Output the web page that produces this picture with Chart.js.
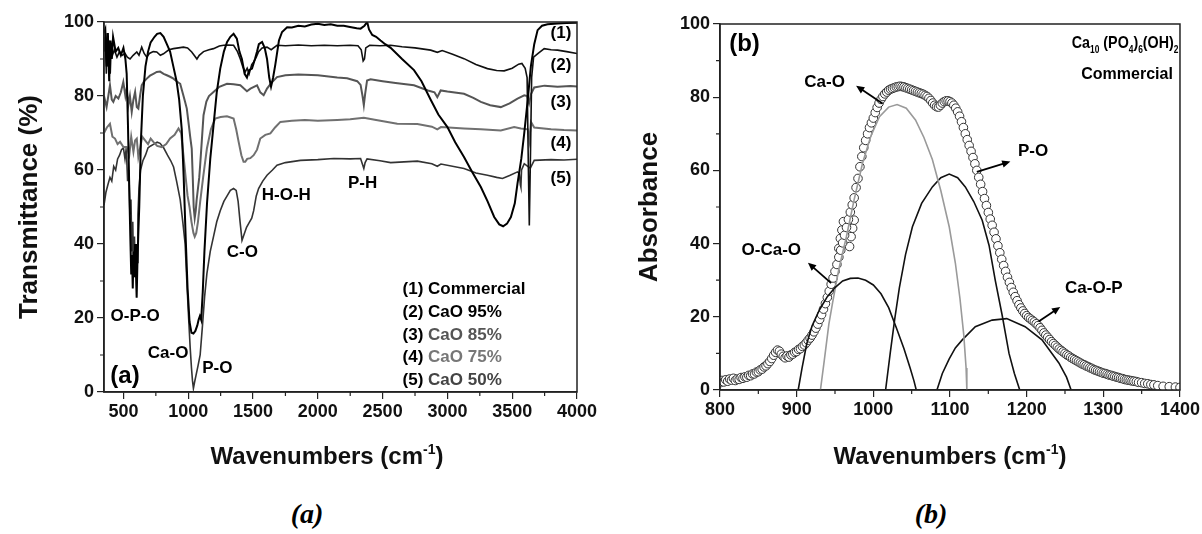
<!DOCTYPE html>
<html>
<head>
<meta charset="utf-8">
<title>FTIR spectra</title>
<script src="https://cdn.jsdelivr.net/npm/chart.js@4.4.1/dist/chart.umd.min.js"></script>
<style>
  html, body { margin: 0; padding: 0; background: #fff; }
  body { width: 1202px; height: 534px; position: relative; overflow: hidden; font-family: "Liberation Sans", Arial, sans-serif; }
  canvas { position: absolute; top: 0; }
  #chartA { left: 0; }
  #chartB { left: 601px; }
  .xtitle { position: absolute; top: 441px; line-height: 30px; font-weight: bold; font-size: 24px; white-space: nowrap; transform: translateX(-50%); color: #111; }
  .xtitle sup { font-size: 14px; vertical-align: 10px; line-height: 0; }
  .caption { position: absolute; top: 496px; line-height: 36px; font-family: "Liberation Serif", "Times New Roman", serif; font-style: italic; font-weight: bold; font-size: 28px; transform: translateX(-50%); }
</style>
</head>
<body>
<canvas id="chartA" width="601" height="480"></canvas>
<canvas id="chartB" width="601" height="480"></canvas>
<div class="xtitle" style="left:327px">Wavenumbers (cm<sup>-1</sup>)</div>
<div class="xtitle" style="left:950px">Wavenumbers (cm<sup>-1</sup>)</div>
<div class="caption" style="left:307px">(a)</div>
<div class="caption" style="left:931px">(b)</div>
<script>
// ---- panel (a): FTIR transmittance, [wavenumber, %T] ----
const commercial = [[350,97],[360,98],[370,88],[380,97],[390,84],[400,95],[410,90],[420,96],[440,92],[460,93],[480,91],[500,93],
  [515,90],[525,86],[535,72],[545,55],[553,42],[560,32],[566,37],[572,28],[578,38],[584,31],[590,40],[596,33],[602,25.5],[608,35],[614,42],[622,50],
  [635,68],[650,80],[670,88],[690,92],[710,94.5],[740,96],[760,96.8],[785,97],[810,96],[835,94],[860,92],[885,88],[910,84],[930,79],[950,71],[965,58],[980,42],[995,28],
  [1010,19],[1025,16],[1040,15.8],[1055,16.5],[1070,18],[1080,19.5],[1090,20.5],[1100,19.5],[1112,27],[1125,38],[1145,51],[1170,63],[1195,72],[1220,81],[1247,87.4],
  [1275,92],[1300,94.6],[1325,96],[1350,96.8],[1375,95.5],[1395,92],[1414,90],[1435,86],[1453,85],[1470,87],[1492,87.4],[1515,90],[1531,92],[1545,94],[1570,94.6],
  [1590,93],[1608,90],[1625,85],[1639,82.5],[1655,85],[1672,88.5],[1700,95],[1724,97.3],[1763,98.6],[1800,98.5],[1850,99],[1900,98.8],[1950,99.3],[2000,99.5],
  [2050,99.2],[2100,99.4],[2150,99],[2200,99],[2258,98.6],[2300,98.3],[2330,98.2],[2360,99],[2381,100],[2395,98],[2420,96.5],[2450,96],[2484,95],[2520,94],
  [2562,93],[2650,90],[2742,87],[2800,84],[2871,79],[2930,75],[3000,71.6],[3060,67.5],[3128,63.5],[3190,59.5],[3258,55.4],[3310,51.5],[3361,47.3],[3400,45.3],
  [3430,44.8],[3460,45.5],[3490,47.3],[3520,51],[3541,56.4],[3570,63],[3593,70],[3620,79],[3644,88],[3670,94],[3696,97.8],[3730,99],[3773,99.4],[3850,99.6],
  [3920,99.7],[4000,99.8]];

const cao95 = [[350,92],[360,96],[368,86],[375,97],[383,88],[390,95],[398,86],[405,93],[415,91],[430,92.5],[450,90.5],[470,92],[490,91],[512,91.5],[530,90.5],
  [551,90],[575,91],[603,91.9],[620,91],[641,93.2],[660,91.5],[680,90.5],[700,91.5],[730,92],[757,91.9],[785,91],[809,91.4],[850,92.5],[886,92.8],[925,93],
  [963,93.2],[995,93],[1027,91.9],[1050,90.8],[1067,90],[1085,91],[1118,92],[1160,92.5],[1195,92.8],[1240,93.5],[1273,93.7],[1310,93.8],[1350,93.7],[1380,92],
  [1402,90],[1420,88],[1440,86.5],[1455,87.5],[1470,86],[1490,88.5],[1505,89.2],[1525,90.5],[1543,92],[1570,93],[1608,93.2],[1640,92.5],[1685,93.7],[1750,93.6],
  [1850,93.8],[1950,93.6],[2050,93.7],[2150,93.6],[2250,93.7],[2310,93.6],[2335,92.5],[2350,89.5],[2360,90],[2370,93],[2400,93.7],[2480,93.6],[2562,93.7],
  [2650,93.3],[2750,93],[2871,92.4],[2922,91.8],[2960,92.3],[3040,91.3],[3128,90.1],[3220,88.5],[3309,87.4],[3380,86.9],[3438,86.8],[3500,87.5],[3550,88.6],
  [3575,88.8],[3600,87.5],[3615,85],[3625,60],[3632,45],[3640,62],[3650,85],[3665,90.5],[3700,91.5],[3747,92.8],[3800,92.5],[3850,92.4],[3920,92],[4000,91.5]];

const cao85 = [[350,80],[370,77],[396,82.9],[410,79],[422,78.4],[440,80],[461,79.3],[480,81],[499,83.8],[515,80],[525,82],[538,77.5],[550,80],[564,75.7],
  [577,79],[590,81.1],[603,77],[615,76.6],[628,80],[641,82.9],[660,84],[680,84.7],[705,85.5],[731,86],[757,86.5],[783,86.6],[810,86],[835,85.6],[860,85.2],
  [886,84.7],[910,84],[938,83.3],[960,80.5],[975,78.5],[989,76.6],[1005,72],[1015,69],[1027,65.8],[1035,58],[1042,50],[1050,47],[1058,49],[1065,52],[1075,55],
  [1085,58],[1092,61.3],[1105,68],[1118,74.8],[1140,78.5],[1160,80],[1195,81.1],[1240,82.5],[1299,83.3],[1350,83.2],[1402,82.9],[1430,82],[1453,81.3],[1480,82],
  [1531,82.9],[1556,81],[1582,80.2],[1608,82],[1640,83.5],[1685,85.1],[1750,85.6],[1850,85.8],[2000,85.6],[2150,85],[2226,84.8],[2304,84],[2330,83],[2345,80],
  [2355,77.5],[2365,80.5],[2380,84.2],[2407,84.5],[2500,84],[2600,83.5],[2742,82.9],[2850,81.5],[2900,81],[2922,79.7],[2948,81.5],[3000,81.2],[3128,80.6],
  [3200,79.5],[3258,78.4],[3330,77.5],[3412,77],[3480,78],[3541,79.3],[3593,80.2],[3615,80],[3630,78],[3645,80.5],[3670,82.3],[3750,82.8],[3850,82.5],
  [3950,82.7],[4000,82.6]];

const cao75 = [[350,70],[372,71.5],[396,72.5],[415,69],[435,68.5],[455,67],[474,67.6],[500,66.2],[525,66.2],[545,64],[560,69],[577,64.9],[590,68],[603,68.5],
  [615,63.5],[628,65.8],[645,69],[667,68],[690,67],[710,68.5],[731,67.6],[760,66.5],[796,66.2],[830,67],[860,68.5],[895,69.5],[925,71.2],[945,70],[963,64],
  [980,58],[995,53],[1010,50],[1025,46],[1040,43],[1050,42],[1062,43],[1075,46],[1092,51.4],[1115,58],[1144,65.8],[1175,71],[1208,73.9],[1250,74.3],[1299,74.5],
  [1350,73.9],[1370,71],[1389,67.6],[1410,64],[1427,62.2],[1440,62.2],[1455,63],[1479,63.2],[1505,64],[1531,65.5],[1556,68.5],[1595,69.5],[1634,69.9],[1670,71.5],
  [1711,73],[1800,73.3],[1900,73.5],[2000,73.3],[2150,73.5],[2250,73.7],[2355,74.1],[2450,73.5],[2613,72.5],[2768,72.4],[2880,71.7],[2922,71],[2950,71.6],
  [3128,71.2],[3258,71],[3412,70.7],[3515,71.6],[3567,71.2],[3620,71],[3632,68],[3645,73],[3670,71.5],[3800,71],[3900,70.8],[4000,70.7]];

const cao50 = [[350,50.5],[365,54],[380,56],[396,58],[410,57],[425,61],[440,60],[455,63],[470,64],[485,65.5],[500,66],[512,63],[522,66],[532,57],[542,60],
  [550,48],[558,52],[565,38],[572,46],[578,33],[585,42],[592,31],[598,40],[605,35],[612,48],[620,55],[632,60],[650,62.5],[670,64],[690,66],[710,66.5],[735,67],
  [760,67.5],[783,67.2],[810,66],[840,64],[865,62.5],[887,60.8],[910,57],[938,52],[958,46],[976,40],[989,30],[1003,20],[1015,12],[1025,6.5],[1033,3],[1040,1],
  [1048,2.5],[1060,4.5],[1075,7],[1092,10],[1110,18],[1127,26],[1144,32],[1170,38],[1195,42],[1220,46],[1247,49],[1275,51.5],[1300,53],[1325,54.5],[1350,55],
  [1370,54.5],[1385,51.5],[1400,46],[1415,41],[1430,42.5],[1450,44.5],[1466,45.5],[1490,47],[1505,49],[1525,53],[1543,55],[1575,57],[1608,58.6],[1650,60],
  [1685,61.3],[1750,62],[1866,62.6],[2000,62.8],[2123,63.1],[2250,63],[2330,63.1],[2345,61.5],[2355,60.4],[2365,62],[2380,63],[2480,62.5],[2562,62],[2768,62.4],
  [2880,61.7],[2922,61],[2950,61.6],[3128,60.4],[3220,59.2],[3309,58.6],[3380,58],[3425,57.7],[3480,58.5],[3541,59.5],[3555,59],[3563,56],[3567,55.4],[3572,60],
  [3593,61.7],[3620,61],[3640,60.5],[3670,62.6],[3800,62.8],[3900,62.7],[4000,62.9]];

// ---- panel (b): deconvolution, [wavenumber, absorbance] ----
const measured = [[800,2.0],[802.5,2.6],[805,2.2],[807.5,2.8],[810,2.4],[812.5,3.0],[815,2.7],[817.5,3.2],[820,2.6],[822.5,3.0],[825,2.9],[827.5,3.4],
  [830,3.2],[832.5,3.6],[835,3.5],[837.5,4.0],[840,3.9],[842.5,4.4],[845,4.4],[847.5,4.9],[850,5.0],[852.5,5.5],[855,5.7],[857.5,6.3],[860,6.6],[862.5,7.2],
  [865,7.8],[867.5,8.6],[870,9.5],[872.5,10.3],[875,10.9],[877.5,10.6],[880,9.8],[882.5,9.2],[885,8.8],[887.5,9.3],[890,9.0],[892.5,9.6],[895,9.8],[897.5,10.3],
  [900,10.5],[902.5,11.1],[905,11.3],[907.5,11.9],[910,12.3],[912.5,12.9],[915,13.6],[917.5,14.2],[920,15.0],[922.5,15.9],[925,16.9],[927.5,18.0],[930,19.3],
  [932.5,20.6],[935,22.1],[937.5,23.6],[940,25.3],[942.5,27],[945,28.9],[947.5,30.6],[950,32.4],[952.5,34.3],[955,36.3],[957.5,38.2],[960,40.2],[962.5,42.3],
  [965,44.4],[967.5,46.6],[970,48.6],[972.5,50.6],[975,52.5],[977.5,55.3],[980,57.8],[982.5,61],[985,63.8],[987.5,66.2],[990,68.2],[992.5,70],[995,71.7],
  [997.5,73],[1000,74.3],[1002.5,75.8],[1005,77.2],[1007.5,78.4],[1010,79.4],[1012.5,80.2],[1015,80.9],[1017.5,81.4],[1020,81.9],[1022.5,82.2],[1025,82.4],
  [1027.5,82.6],[1030,82.8],[1032.5,82.9],[1035,83],[1037.5,82.9],[1040,82.8],[1042.5,82.6],[1045,82.4],[1047.5,82.2],[1050,82],[1052.5,81.8],[1055,81.6],
  [1057.5,81.4],[1060,81.2],[1062.5,81],[1065,80.8],[1067.5,80.5],[1070,80.2],[1072.5,79.7],[1075,79.1],[1077.5,78.4],[1080,77.8],[1082.5,77.4],[1085,77.3],
  [1087.5,77.8],[1090,78.4],[1092.5,78.8],[1095,79],[1097.5,79],[1100,78.8],[1102.5,78.4],[1105,77.8],[1107.5,77],[1110,76],[1112.5,74.8],[1115,73.3],
  [1117.5,71.7],[1120,70],[1122.5,68.4],[1125,66.8],[1127.5,65.2],[1130,63.5],[1132.5,61.8],[1135,60],[1137.5,58.1],[1140,56.2],[1142.5,54.2],[1145,52.3],
  [1147.5,50.4],[1150,48.5],[1152.5,46.7],[1155,45],[1157.5,43.1],[1160,41.3],[1162.5,39.4],[1165,37.5],[1167.5,35.7],[1170,34],[1172.5,32.4],[1175,30.8],
  [1177.5,29.4],[1180,28],[1182.5,26.7],[1185,25.5],[1187.5,24.4],[1190,23.3],[1192.5,22.4],[1195,21.6],[1197.5,20.9],[1200,20.3],[1202.5,19.8],[1205,19.4],
  [1207.5,19.0],[1210,18.6],[1212.5,18.1],[1215,17.6],[1217.5,17],[1220,16.3],[1222.5,15.6],[1225,15],[1227.5,14.4],[1230,13.8],[1232.5,13.2],[1235,12.7],
  [1237.5,12.2],[1240,11.7],[1242.5,11.2],[1245,10.8],[1247.5,10.4],[1250,10],[1252.5,9.6],[1255,9.3],[1257.5,8.9],[1260,8.6],[1262.5,8.3],[1265,8],
  [1267.5,7.7],[1270,7.4],[1272.5,7.1],[1275,6.9],[1277.5,6.6],[1280,6.4],[1282.5,6.1],[1285,5.9],[1287.5,5.6],[1290,5.4],[1292.5,5.2],[1295,5],[1297.5,4.8],
  [1300,4.6],[1302.5,4.5],[1305,4.3],[1307.5,4.1],[1310,4],[1312.5,3.8],[1315,3.7],[1317.5,3.5],[1320,3.4],[1322.5,3.2],[1325,3.1],[1327.5,2.9],[1330,2.8],
  [1332.5,2.7],[1335,2.6],[1337.5,2.5],[1340,2.4],[1343,2.3],[1346,2.1],[1350,2],[1354,1.8],[1358,1.7],[1362,1.5],[1366,1.4],[1371,1.2],[1378,1.0],
  [1386,0.9],[1394,0.8],[1400,0.7]];
// scattered readings near 960 cm-1
const measuredScatter = [[955,38.7],[957,41.4],[959,43.7],[961,46],[969,39.2],[971,41.9],[973,44.2],[975,46.4]];

const bandOCaO = [[902,0],[907,6],[913,12.5],[920,17.5],[930,22],[940,25.5],[950,28],[960,29.8],[970,30.5],[980,30.6],[990,30],[1000,28.7],[1010,26.3],
  [1020,22.5],[1030,17],[1040,11.3],[1048,6],[1053,2.5],[1056,0]];
const bandCaO = [[931,0],[936,8],[942,18],[947,24],[955,33],[965,42],[975,52],[986,62],[997,69.5],[1008,74.7],[1020,77.3],[1031,78],[1043,77],[1055,73.8],
  [1066,69],[1077,63],[1088,54.5],[1099,44.6],[1107,34.7],[1113,25],[1118,15],[1121,6],[1122,0]];
const bandPO = [[1016,0],[1022,10],[1028,19.5],[1034,28],[1042,37],[1051,44.6],[1063,51],[1077,55.5],[1088,58],[1099,59],[1110,58],[1120,55.5],[1131,51.5],
  [1142,46.4],[1151,39.5],[1159,30],[1168,20.5],[1177,10],[1184,4.5],[1191,0]];
const bandCaOP = [[1083,0],[1090,4.5],[1099,8.5],[1107,11.5],[1116,13.7],[1133,17.3],[1155,19.1],[1174,19.5],[1198,17.3],[1220,13.7],[1242,7.4],[1252,3.5],[1258,0]];

// ---- ticks ----
const xTicksA = [500, 1000, 1500, 2000, 2500, 3000, 3500, 4000];
const xMinorA = [750, 1250, 1750, 2250, 2750, 3250, 3750];
const yTicksA = [0, 20, 40, 60, 80, 100];
const yMinorA = [10, 30, 50, 70, 90];
const xTicksB = [800, 900, 1000, 1100, 1200, 1300, 1400];
const xMinorB = [850, 950, 1050, 1150, 1250, 1350];
const yTicksB = [0, 20, 40, 60, 80, 100];
const yMinorB = [10, 30, 50, 70, 90];

const family = '"Liberation Sans", Arial, sans-serif';

function toPoints(pairs) {
  return pairs.map(p => ({ x: p[0], y: p[1] }));
}

function lineSet(label, pairs, color, width) {
  return { label, data: toPoints(pairs), borderColor: color, borderWidth: width, pointRadius: 0, fill: false, tension: 0, order: 1 };
}

function scaleX(min, max, ticks, height) {
  return {
    type: 'linear', min, max,
    afterBuildTicks: s => { s.ticks = ticks.map(v => ({ value: v })); },
    afterFit: s => { s.height = height; },
    grid: { drawOnChartArea: false, drawTicks: true, tickLength: 7, color: '#222', lineWidth: 1.2 },
    border: { display: true, color: '#222', width: 1.5 },
    ticks: { color: '#111', font: { family, size: 18, weight: 'bold' }, padding: 2, maxRotation: 0, autoSkip: false, callback: v => String(v) }
  };
}

function scaleY(min, max, ticks, width, text, pad) {
  return {
    type: 'linear', min, max,
    afterBuildTicks: s => { s.ticks = ticks.map(v => ({ value: v })); },
    afterFit: s => { s.width = width; },
    grid: { drawOnChartArea: false, drawTicks: true, tickLength: 7, color: '#222', lineWidth: 1.2 },
    border: { display: true, color: '#222', width: 1.5 },
    ticks: { color: '#111', font: { family, size: 18, weight: 'bold' }, padding: 3, autoSkip: false, callback: v => String(v) },
    title: { display: true, text, color: '#111', font: { family, size: 26, weight: 'bold' }, padding: { top: pad, bottom: 0 } }
  };
}

// text made of plain and subscript parts, anchored at a data point
function drawRich(ctx, xs, ys, t) {
  const size = t.size || 17;
  const squeeze = t.squeeze || 1;
  const big = `bold ${size}px ${family}`;
  const small = `bold ${Math.round(size * 0.6)}px ${family}`;
  const widths = t.parts.map(p => { ctx.font = p.sub ? small : big; return ctx.measureText(p.s).width * squeeze; });
  const total = widths.reduce((a, b) => a + b, 0);
  let px = xs.getPixelForValue(t.at[0]);
  const py = ys.getPixelForValue(t.at[1]);
  if (t.align === 'center') px -= total / 2;
  else if (t.align === 'right') px -= total;
  ctx.textBaseline = 'middle';
  ctx.textAlign = 'left';
  t.parts.forEach((p, i) => {
    ctx.save();
    ctx.font = p.sub ? small : big;
    ctx.fillStyle = p.c || '#000';
    ctx.translate(px, p.sub ? py + size * 0.42 : py);
    ctx.scale(squeeze, 1);
    ctx.fillText(p.s, 0, 0);
    ctx.restore();
    px += widths[i];
  });
}

function drawArrow(ctx, xs, ys, ar) {
  const x0 = xs.getPixelForValue(ar.from[0]), y0 = ys.getPixelForValue(ar.from[1]);
  const x1 = xs.getPixelForValue(ar.to[0]), y1 = ys.getPixelForValue(ar.to[1]);
  const ang = Math.atan2(y1 - y0, x1 - x0);
  const L = 9;
  ctx.strokeStyle = '#000';
  ctx.fillStyle = '#000';
  ctx.lineWidth = 1.8;
  ctx.beginPath();
  ctx.moveTo(x0, y0);
  ctx.lineTo(x1 - L * 0.7 * Math.cos(ang), y1 - L * 0.7 * Math.sin(ang));
  ctx.stroke();
  ctx.beginPath();
  ctx.moveTo(x1, y1);
  ctx.lineTo(x1 - L * Math.cos(ang - 0.42), y1 - L * Math.sin(ang - 0.42));
  ctx.lineTo(x1 - L * Math.cos(ang + 0.42), y1 - L * Math.sin(ang + 0.42));
  ctx.closePath();
  ctx.fill();
}

// frame, minor ticks, arrows and in-plot labels
const decorPlugin = {
  id: 'decor',
  afterDraw(chart, args, opts) {
    const { ctx, chartArea: a, scales: { x, y } } = chart;
    ctx.save();
    ctx.strokeStyle = '#222';
    ctx.lineWidth = 1.5;
    ctx.strokeRect(a.left, a.top, a.right - a.left, a.bottom - a.top);
    ctx.lineWidth = 1.2;
    ctx.beginPath();
    opts.minorX.forEach(v => { const px = x.getPixelForValue(v); ctx.moveTo(px, a.bottom); ctx.lineTo(px, a.bottom + 4); });
    opts.minorY.forEach(v => { const py = y.getPixelForValue(v); ctx.moveTo(a.left, py); ctx.lineTo(a.left - 4, py); });
    ctx.stroke();
    (opts.arrows || []).forEach(ar => drawArrow(ctx, x, y, ar));
    (opts.texts || []).forEach(t => drawRich(ctx, x, y, t));
    ctx.restore();
  }
};

const baseOptions = {
  responsive: false,
  animation: false,
  devicePixelRatio: 1,
  plugins: { legend: { display: false }, tooltip: { enabled: false } }
};

function circleSet(label, pairs) {
  return {
    label,
    data: toPoints(pairs),
    showLine: false,
    pointStyle: 'circle',
    pointRadius: 4.3,
    pointBorderWidth: 1,
    pointBorderColor: '#333',
    pointBackgroundColor: '#fff',
    order: 2
  };
}

// ---- chart (a) ----
new Chart(document.getElementById('chartA'), {
  type: 'line',
  data: {
    datasets: [
      lineSet('(1) Commercial', commercial, '#000', 2),
      lineSet('(2) CaO 95%', cao95, '#111', 1.6),
      lineSet('(3) CaO 85%', cao85, '#555', 2),
      lineSet('(4) CaO 75%', cao75, '#707070', 2),
      lineSet('(5) CaO 50%', cao50, '#333', 1.6)
    ]
  },
  options: {
    ...baseOptions,
    layout: { padding: { left: 0, top: 22, right: 24, bottom: 0 } },
    scales: {
      x: scaleX(350, 4000, xTicksA, 88),
      y: scaleY(0, 100, yTicksA, 104, 'Transmittance (%)', 14)
    },
    plugins: {
      ...baseOptions.plugins,
      decor: {
        minorX: xMinorA,
        minorY: yMinorA,
        texts: [
          { at: [590, 20.5], align: 'center', parts: [{ s: 'O-P-O' }] },
          { at: [845, 10.5], align: 'center', parts: [{ s: 'Ca-O' }] },
          { at: [1224, 6.4], align: 'center', parts: [{ s: 'P-O' }] },
          { at: [512, 4.2], align: 'center', size: 24, parts: [{ s: '(a)' }] },
          { at: [1417, 37.8], align: 'center', parts: [{ s: 'C-O' }] },
          { at: [1757, 53.2], align: 'center', parts: [{ s: 'H-O-H' }] },
          { at: [2345, 56.4], align: 'center', parts: [{ s: 'P-H' }] },
          { at: [3876, 96.9], align: 'center', parts: [{ s: '(1)' }] },
          { at: [3876, 88.3], align: 'center', parts: [{ s: '(2)' }] },
          { at: [3876, 78.4], align: 'center', parts: [{ s: '(3)' }] },
          { at: [3876, 67.2], align: 'center', parts: [{ s: '(4)' }] },
          { at: [3876, 57.8], align: 'center', parts: [{ s: '(5)' }] },
          { at: [2654, 27.8], align: 'left', parts: [{ s: '(1) Commercial' }] },
          { at: [2654, 21.5], align: 'left', parts: [{ s: '(2) CaO 95%' }] },
          { at: [2654, 15.3], align: 'left', parts: [{ s: '(3) ' }, { s: 'CaO 85%', c: '#555' }] },
          { at: [2654, 9.4], align: 'left', parts: [{ s: '(4) ' }, { s: 'CaO 75%', c: '#777' }] },
          { at: [2654, 3.2], align: 'left', parts: [{ s: '(5) ' }, { s: 'CaO 50%', c: '#444' }] }
        ]
      }
    }
  },
  plugins: [decorPlugin]
});

// ---- chart (b) ----
new Chart(document.getElementById('chartB'), {
  type: 'line',
  data: {
    datasets: [
      lineSet('O-Ca-O', bandOCaO, '#111', 1.6),
      lineSet('Ca-O', bandCaO, '#9a9a9a', 1.6),
      lineSet('P-O', bandPO, '#111', 1.6),
      lineSet('Ca-O-P', bandCaOP, '#111', 1.6),
      circleSet('Measured', measured),
      circleSet('Measured (scatter)', measuredScatter)
    ]
  },
  options: {
    ...baseOptions,
    layout: { padding: { left: 0, top: 24, right: 20, bottom: 0 } },
    scales: {
      x: scaleX(800, 1400, xTicksB, 90),
      y: scaleY(0, 100, yTicksB, 119, 'Absorbance', 33)
    },
    plugins: {
      ...baseOptions.plugins,
      decor: {
        minorX: xMinorB,
        minorY: yMinorB,
        arrows: [
          { from: [1012, 78.3], to: [977.5, 83.1] },
          { from: [945, 29.2], to: [914.7, 34.8] },
          { from: [1135, 59.6], to: [1178.8, 62.4] },
          { from: [1215.6, 18.7], to: [1243.8, 22.7] }
        ],
        texts: [
          { at: [832, 94.3], align: 'center', size: 24, parts: [{ s: '(b)' }] },
          { at: [936.4, 84.2], align: 'center', parts: [{ s: 'Ca-O' }] },
          { at: [866.9, 38.3], align: 'center', parts: [{ s: 'O-Ca-O' }] },
          { at: [1208.4, 65.1], align: 'center', parts: [{ s: 'P-O' }] },
          { at: [1287.7, 27.9], align: 'center', parts: [{ s: 'Ca-O-P' }] },
          { at: [1398, 94.8], align: 'right', size: 17, squeeze: 0.84, parts: [{ s: 'Ca' }, { s: '10', sub: true }, { s: ' (PO' }, { s: '4', sub: true }, { s: ')' }, { s: '6', sub: true }, { s: '(OH)' }, { s: '2', sub: true }] },
          { at: [1331, 86.1], align: 'center', size: 16, parts: [{ s: 'Commercial' }] }
        ]
      }
    }
  },
  plugins: [decorPlugin]
});
</script>
</body>
</html>
